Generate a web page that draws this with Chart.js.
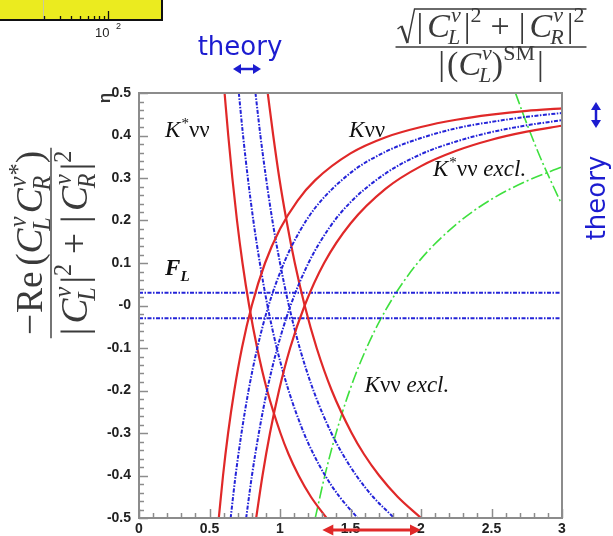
<!DOCTYPE html>
<html>
<head>
<meta charset="utf-8">
<script src="https://cdn.jsdelivr.net/npm/chart.js@4/dist/chart.umd.min.js"></script>
<style>
  html, body { margin: 0; padding: 0; background: #fff; }
  canvas { display: block; }
</style>
</head>
<body>
<canvas id="c" width="613" height="536"></canvas>
<script>
// Tick labels
const xTickLabels = ['0', '0.5', '1', '1.5', '2', '2.5', '3'];
const yTickLabels = ['-0.5', '-0.4', '-0.3', '-0.2', '-0.1', '-0', '0.1', '0.2', '0.3', '0.4', '0.5'];

// B -> K nu nu bands (epsilon, eta)
const kvvRedOuter = [[0.566,-0.5],[0.596,-0.4],[0.632,-0.3],[0.676,-0.2],[0.730,-0.1],[0.800,0],[0.894,0.1],[1.0,0.18],[1.125,0.247],[1.25,0.295],[1.5,0.358],[1.75,0.396],[2.0,0.42],[2.25,0.437],[2.5,0.449],[2.75,0.458],[3.0,0.464]];
const kvvBlueOuter = [[0.650,-0.5],[0.685,-0.4],[0.727,-0.3],[0.777,-0.2],[0.839,-0.1],[0.919,0],[1.028,0.1],[1.125,0.166],[1.25,0.230],[1.5,0.312],[1.75,0.362],[2.0,0.394],[2.25,0.417],[2.5,0.432],[2.75,0.444],[3.0,0.453]];
const kvvBlueInner = [[0.760,-0.5],[0.801,-0.4],[0.850,-0.3],[0.908,-0.2],[0.981,-0.1],[1.075,0],[1.202,0.1],[1.35,0.183],[1.5,0.243],[1.75,0.311],[2.0,0.356],[2.25,0.386],[2.5,0.408],[2.75,0.424],[3.0,0.436]];
const kvvRedInner = [[0.831,-0.5],[0.876,-0.4],[0.929,-0.3],[0.993,-0.2],[1.072,-0.1],[1.175,0],[1.313,0.1],[1.5,0.193],[1.75,0.275],[2.0,0.328],[2.25,0.364],[2.5,0.390],[2.75,0.409],[3.0,0.423]];
const kvvExcl = [[1.25,-0.5],[1.318,-0.4],[1.398,-0.3],[1.494,-0.2],[1.614,-0.1],[1.768,0],[1.976,0.1],[2.25,0.191],[2.5,0.25],[2.75,0.293],[3.0,0.326]];

// B -> K* nu nu bands (epsilon, eta)
const kstRedLeft = [[0.607,0.5],[0.633,0.4],[0.662,0.3],[0.695,0.2],[0.734,0.1],[0.781,0],[0.838,-0.1],[0.909,-0.2],[1.003,-0.3],[1.061,-0.35],[1.132,-0.4],[1.219,-0.45],[1.330,-0.5]];
const kstBlueLeft = [[0.708,0.5],[0.738,0.4],[0.772,0.3],[0.811,0.2],[0.857,0.1],[0.911,0],[0.977,-0.1],[1.061,-0.2],[1.169,-0.3],[1.238,-0.35],[1.320,-0.4],[1.422,-0.45],[1.551,-0.5]];
const kstBlueRight = [[0.826,0.5],[0.861,0.4],[0.901,0.3],[0.946,0.2],[1.000,0.1],[1.063,0],[1.140,-0.1],[1.237,-0.2],[1.364,-0.3],[1.445,-0.35],[1.541,-0.4],[1.659,-0.45],[1.810,-0.5]];
const kstRedRight = [[0.913,0.5],[0.952,0.4],[0.995,0.3],[1.046,0.2],[1.105,0.1],[1.175,0],[1.260,-0.1],[1.367,-0.2],[1.508,-0.3],[1.596,-0.35],[1.703,-0.4],[1.834,-0.45],[2.0,-0.5]];
const kstExcl = [[2.670,0.5],[2.725,0.45],[2.783,0.4],[2.844,0.35],[2.911,0.3],[2.981,0.25],[3.0,0.2375]];

// F_L band (horizontal)
const flUpper = [[0,0.03],[3,0.03]];
const flLower = [[0,-0.03],[3,-0.03]];

// Theory range of the x quantity, marked under the axis
const theoryRangeX = [1.3, 2.0];

// Log-axis fragment of the neighbouring panel
const fragTicks = [20, 30, 40, 50, 60, 70, 80, 90, 100];

const RED = '#e02828';
const BLUE = '#2424d8';
const GREEN = '#3ee03e';
const BLUE_DASH = [4, 1.5, 1.5, 1.5];
const GREEN_DASH = [12, 3, 2, 3];

function pts(a) { return a.map(([x, y]) => ({ x, y })); }
function red(a) { return { data: pts(a), borderColor: RED, borderWidth: 2.2 }; }
function blue(a) { return { data: pts(a), borderColor: BLUE, borderWidth: 2, borderDash: BLUE_DASH }; }
function green(a) { return { data: pts(a), borderColor: GREEN, borderWidth: 1.6, borderDash: GREEN_DASH }; }

const datasets = [
  red(kvvRedOuter), blue(kvvBlueOuter), blue(kvvBlueInner), red(kvvRedInner),
  red(kstRedLeft), blue(kstBlueLeft), blue(kstBlueRight), red(kstRedRight),
  blue(flUpper), blue(flLower),
  green(kvvExcl), green(kstExcl)
].map(d => Object.assign(d, {
  showLine: true, pointRadius: 0, fill: false, clip: 0,
  cubicInterpolationMode: 'monotone', tension: 0
}));

const SERIF = '"Liberation Serif", "DejaVu Serif", serif';
const SANS = '"Liberation Sans", Arial, sans-serif';
const MAIN = 34, SCRIPT = 22;
const INK = '#3a3a3a';

function fnt(size, italic, bold) {
  return (italic ? 'italic ' : '') + (bold ? 'bold ' : '') + size + 'px ' + SERIF;
}

// Lays out a run of math pieces at size factor k; returns its width
function mathRun(ctx, items, draw, x, y, k) {
  let cx = x;
  for (const it of items) {
    if (it.gap !== undefined) { cx += it.gap * k; continue; }
    if (it.sup !== undefined || it.sub !== undefined) {
      ctx.font = fnt(SCRIPT * k, true);
      const w1 = it.sup ? ctx.measureText(it.sup).width : 0;
      const w2 = it.sub ? ctx.measureText(it.sub).width : 0;
      if (draw) {
        if (it.sup) ctx.fillText(it.sup, cx + 1 * k, y - 15 * k);
        if (it.sub) ctx.fillText(it.sub, cx - 2 * k, y + 7 * k);
      }
      cx += Math.max(w1 + 1 * k, w2 - 2 * k);
      continue;
    }
    const size = (it.s || MAIN) * k;
    ctx.font = fnt(size, it.i);
    if (draw) ctx.fillText(it.t, cx, y + (it.dy || 0) * k);
    cx += ctx.measureText(it.t).width;
  }
  return cx - x;
}

function mathCentered(ctx, items, cx, y, k) {
  const w = mathRun(ctx, items, false, 0, 0, k);
  mathRun(ctx, items, true, cx - w / 2, y, k);
  return w;
}

const absSq = (idx) => [
  { t: '|' }, { gap: 4 }, { t: 'C', i: 1 }, { sup: 'ν', sub: idx }, { gap: 3 }, { t: '|' },
  { t: '2', s: SCRIPT, dy: -15 }
];
const sumSq = [...absSq('L'), { gap: 9 }, { t: '+' }, { gap: 9 }, ...absSq('R')];
const smDen = [
  { t: '|' }, { gap: 2 }, { t: '(' }, { t: 'C', i: 1 }, { sup: 'ν', sub: 'L' }, { t: ')' },
  { t: 'SM', s: SCRIPT, dy: -15 }, { gap: 2 }, { t: '|' }
];
const reNum = [
  { t: '−' }, { gap: 1 }, { t: 'Re' }, { gap: 5 }, { t: '(' }, { t: 'C', i: 1 }, { sup: 'ν', sub: 'L' }, { gap: 3 },
  { t: 'C', i: 1 }, { sup: 'ν*', sub: 'R' }, { gap: 1 }, { t: ')' }
];

function dblArrow(ctx, x1, y1, x2, y2, color, lw, hl, hw) {
  const a = Math.atan2(y2 - y1, x2 - x1);
  const ux = Math.cos(a), uy = Math.sin(a);
  ctx.save();
  ctx.strokeStyle = color; ctx.fillStyle = color; ctx.lineWidth = lw;
  ctx.beginPath();
  ctx.moveTo(x1 + ux * hl * 0.7, y1 + uy * hl * 0.7);
  ctx.lineTo(x2 - ux * hl * 0.7, y2 - uy * hl * 0.7);
  ctx.stroke();
  const head = (x, y, c, s) => {
    ctx.beginPath();
    ctx.moveTo(x, y);
    ctx.lineTo(x - c * hl - s * hw, y - s * hl + c * hw);
    ctx.lineTo(x - c * hl + s * hw, y - s * hl - c * hw);
    ctx.closePath(); ctx.fill();
  };
  head(x2, y2, ux, uy);
  head(x1, y1, -ux, -uy);
  ctx.restore();
}

function label(ctx, xs, ys, ex, ey, parts) {
  let x = xs.getPixelForValue(ex);
  const y = ys.getPixelForValue(ey);
  for (const p of parts) {
    ctx.font = fnt(p.s || 23, p.i, p.b);
    ctx.fillText(p.t, x + (p.dx || 0), y + (p.dy || 0));
    x += ctx.measureText(p.t).width + (p.dx || 0);
  }
}

const decor = {
  id: 'decor',
  beforeDraw(c) {
    const ctx = c.ctx;
    ctx.save(); ctx.fillStyle = '#fff'; ctx.fillRect(0, 0, c.width, c.height); ctx.restore();
  },
  afterDatasetsDraw(c) {
    const ctx = c.ctx, a = c.chartArea, xs = c.scales.x, ys = c.scales.y;
    ctx.save();
    ctx.strokeStyle = '#8c8c8c';
    ctx.lineWidth = 1.5;
    // inward ticks on the left axis
    for (let i = 0; i <= 50; i++) {
      const y = Math.round(ys.getPixelForValue(-0.5 + i * 0.02)) + 0.5;
      const len = i % 5 === 0 ? 9 : 5;
      ctx.beginPath(); ctx.moveTo(a.left, y); ctx.lineTo(a.left + len, y); ctx.stroke();
    }
    // inward ticks on the bottom axis
    for (let i = 0; i <= 30; i++) {
      const x = Math.round(xs.getPixelForValue(i * 0.1)) + 0.5;
      const len = i % 5 === 0 ? 9 : 5;
      ctx.beginPath(); ctx.moveTo(x, a.bottom); ctx.lineTo(x, a.bottom - len); ctx.stroke();
    }
    ctx.lineWidth = 2;
    ctx.strokeRect(a.left, a.top, a.right - a.left, a.bottom - a.top);
    ctx.restore();
  },
  afterDraw(c) {
    const ctx = c.ctx, xs = c.scales.x, ys = c.scales.y;
    ctx.save();
    ctx.textBaseline = 'alphabetic';
    ctx.textAlign = 'left';

    // fragment of the neighbouring log-scale panel
    ctx.fillStyle = '#ebeb1f';
    ctx.fillRect(0, 0, 162, 20);
    ctx.strokeStyle = '#c8c8a0'; ctx.lineWidth = 1;
    ctx.beginPath(); ctx.moveTo(43.5, 0); ctx.lineTo(43.5, 19); ctx.stroke();
    ctx.strokeStyle = '#111'; ctx.lineWidth = 1.3;
    for (const v of fragTicks) {
      const x = Math.round(108 + 92 * Math.log10(v / 100)) + 0.5;
      const len = v === 100 ? 9 : 4;
      ctx.beginPath(); ctx.moveTo(x, 20); ctx.lineTo(x, 20 - len); ctx.stroke();
    }
    ctx.lineWidth = 2;
    ctx.beginPath(); ctx.moveTo(0, 20); ctx.lineTo(162, 20); ctx.lineTo(162, 0); ctx.stroke();
    ctx.fillStyle = '#222';
    ctx.font = '13px ' + SANS;
    ctx.fillText('10', 95, 37);
    ctx.font = '9px ' + SANS;
    ctx.fillText('2', 116, 29);

    // in-plot band labels
    ctx.fillStyle = '#111';
    label(ctx, xs, ys, 0.185, 0.396, [{ t: 'K', i: 1 }, { t: '*', s: 15, dy: -9, dx: 1 }, { t: 'νν' }]);
    label(ctx, xs, ys, 1.49, 0.396, [{ t: 'K', i: 1 }, { t: 'νν' }]);
    label(ctx, xs, ys, 2.085, 0.305, [{ t: 'K', i: 1 }, { t: '*', s: 15, dy: -9, dx: 1 }, { t: 'νν ' }, { t: 'excl.', i: 1 }]);
    label(ctx, xs, ys, 1.60, -0.203, [{ t: 'K', i: 1 }, { t: 'νν ' }, { t: 'excl.', i: 1 }]);
    label(ctx, xs, ys, 0.185, 0.072, [{ t: 'F', i: 1, b: 1 }, { t: 'L', s: 15, i: 1, b: 1, dy: 6 }]);

    // theory range arrow under the x axis
    const rx1 = xs.getPixelForValue(theoryRangeX[0]);
    const rx2 = xs.getPixelForValue(theoryRangeX[1]);
    dblArrow(ctx, rx1, 530, rx2, 530, RED, 3, 11, 5.5);

    // "theory" markers
    ctx.fillStyle = '#1c1cd0';
    ctx.font = '26px "DejaVu Sans", sans-serif';
    ctx.textAlign = 'center';
    ctx.fillText('theory', 240, 55);
    dblArrow(ctx, 233, 69, 261, 69, '#1c1cd0', 2.5, 8, 5);
    dblArrow(ctx, 596, 102, 596, 128, '#1c1cd0', 2.5, 8, 5);
    ctx.save();
    ctx.translate(605, 198);
    ctx.rotate(-Math.PI / 2);
    ctx.fillText('theory', 0, 0);
    ctx.restore();
    ctx.textAlign = 'left';

    // x-axis title (top right)
    ctx.fillStyle = INK; ctx.strokeStyle = INK;
    const wNum = mathRun(ctx, sumSq, false, 0, 0, 1);
    const rad = 19;
    const x0 = 491 - (wNum + rad) / 2;
    mathRun(ctx, sumSq, true, x0 + rad, 37, 1);
    ctx.lineWidth = 1.4;
    ctx.beginPath();
    ctx.moveTo(x0, 29); ctx.lineTo(x0 + 4, 26);
    ctx.stroke();
    ctx.lineWidth = 2.4;
    ctx.beginPath(); ctx.moveTo(x0 + 4, 26); ctx.lineTo(x0 + 10, 43); ctx.stroke();
    ctx.lineWidth = 1.4;
    ctx.beginPath(); ctx.moveTo(x0 + 10, 43); ctx.lineTo(x0 + 17, 9); ctx.lineTo(x0 + rad + wNum + 2, 9); ctx.stroke();
    ctx.beginPath(); ctx.moveTo(x0 - 2, 47); ctx.lineTo(x0 + rad + wNum + 2, 47); ctx.stroke();
    mathCentered(ctx, smDen, 491, 75, 1);

    // y-axis title (rotated fraction)
    ctx.save();
    ctx.translate(51, 243);
    ctx.rotate(-Math.PI / 2);
    const ky = 1.1;
    const wTop = mathCentered(ctx, reNum, 0, -9, ky);
    const wBot = mathCentered(ctx, sumSq, 0, 36, ky);
    const half = Math.max(wTop, wBot) / 2 + 3;
    ctx.lineWidth = 1.4;
    ctx.beginPath(); ctx.moveTo(-half, 0); ctx.lineTo(half, 0); ctx.stroke();
    ctx.restore();

    // eta symbol at the top of the y axis
    ctx.save();
    ctx.fillStyle = '#333';
    ctx.translate(110, 98);
    ctx.rotate(-Math.PI / 2);
    ctx.font = 'bold 17px ' + SANS;
    ctx.textAlign = 'center';
    ctx.fillText('η', 0, 0);
    ctx.restore();

    ctx.restore();
  }
};

const tickFont = { family: SANS, size: 14, weight: 'bold' };

new Chart(document.getElementById('c'), {
  type: 'scatter',
  data: { datasets },
  options: {
    responsive: false,
    animation: false,
    devicePixelRatio: 1,
    layout: { padding: { left: 0, top: 93, right: 51, bottom: 0 } },
    plugins: { legend: { display: false }, tooltip: { enabled: false } },
    scales: {
      x: {
        type: 'linear', min: 0, max: 3,
        afterFit(s) { s.height = 18; },
        border: { display: false },
        grid: { display: false, drawTicks: false },
        ticks: {
          stepSize: 0.5, padding: 3, color: '#222', font: tickFont,
          autoSkip: false, maxRotation: 0,
          callback: (v, i) => xTickLabels[i]
        }
      },
      y: {
        type: 'linear', min: -0.5, max: 0.5,
        afterFit(s) { s.width = 139; },
        border: { display: false },
        grid: { display: false, drawTicks: false },
        ticks: {
          stepSize: 0.1, padding: 8, color: '#222', font: tickFont,
          autoSkip: false,
          callback: (v, i) => yTickLabels[i]
        }
      }
    }
  },
  plugins: [decor]
});
</script>
</body>
</html>
